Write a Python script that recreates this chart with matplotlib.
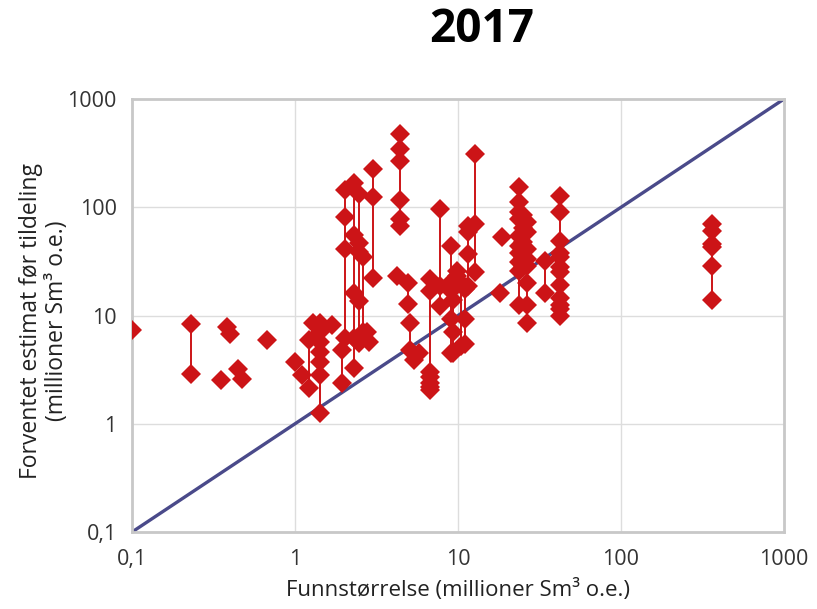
import numpy as np
import matplotlib.pyplot as plt

# Funnstørrelse (x) and the estimates made before award (y) per discovery
find_size = [0.1, 0.23, 0.38, 0.40, 0.35, 0.45, 0.47, 0.67,
             1.0, 1.1, 1.22, 1.29, 1.42, 1.69, 2.03, 1.94, 2.3, 2.47, 2.6, 2.77, 2.85, 3.0,
             4.4, 4.2, 4.94, 5.1, 5.4, 5.8, 6.7, 7.7, 9.0, 9.3, 9.9, 10.5, 11.0, 11.5, 12.7,
             18.0, 18.7, 23.7, 25.0, 26.5, 34.0, 42.0, 360.0]
estimates = [
    [7.4], [8.4, 2.9], [7.9], [6.7], [2.55], [3.2], [2.6], [5.9],
    [3.7], [2.8], [6.0, 2.15], [8.6], [8.6, 7.0, 5.75, 4.6, 3.7, 2.85, 1.26], [8.1],
    [143, 81, 41, 6.2], [4.8, 2.4], [167, 56, 16.3, 6.2, 3.3], [133, 47, 39, 13.5, 5.6],
    [35, 7.0], [7.0], [5.75], [225, 124, 22],
    [474, 345, 265, 116, 78, 67], [23], [19.8, 12.9], [8.6, 4.8], [3.9], [4.5],
    [21.6, 16.7, 3.0, 2.7, 2.4, 2.2, 2.05], [96, 18.6, 12.2],
    [43.6, 20.2, 16.7, 9.2, 4.5], [14, 7.0, 4.5], [25.6, 23], [20, 5.2],
    [17.5, 9.2, 5.4], [67, 59, 37, 18.6], [310, 70, 25],
    [16.3], [53], [153, 111, 90, 78, 54, 44, 38, 31, 25.6, 12.6],
    [85, 65, 48, 35, 28], [73, 59, 41, 33, 28.5, 20, 12.6, 8.6], [31.6, 16.3],
    [126, 90, 48.5, 38, 34.5, 28, 25, 19.3, 14.6, 12.6, 11.4, 9.8],
    [70, 60, 45.5, 42.5, 28.5, 14],
]
ticks = [0.1, 1, 10, 100, 1000]
tick_labels = ["0,1", "1", "10", "100", "1000"]

plt.rcParams['font.family'] = ['Open Sans', 'DejaVu Sans']

red = "#cc1417"
fig = plt.figure(figsize=(8.17, 6.09), dpi=100)
ax = fig.add_axes([0.1616, 0.1264, 0.798, 0.711])

# y = x reference line
ax.plot(ticks, ticks, color="#4a4a8a", linewidth=2.4, zorder=2)

for x, ys in zip(find_size, estimates):
    if len(ys) > 1:
        ax.plot([x, x], [min(ys), max(ys)], color=red, linewidth=1.4, zorder=3)
    ax.plot([x] * len(ys), ys, linestyle="none", marker="D", markersize=10,
            color=red, markeredgewidth=0, zorder=4)

ax.set_xscale("log")
ax.set_yscale("log")
ax.set_xlim(0.1, 1000)
ax.set_ylim(0.1, 1000)
ax.set_xticks(ticks)
ax.set_xticklabels(tick_labels)
ax.set_yticks(ticks)
ax.set_yticklabels(tick_labels)
ax.minorticks_off()
ax.tick_params(length=0, labelsize=15.5, colors="#333333")
ax.tick_params(axis="x", pad=12)
ax.tick_params(axis="y", pad=11)
ax.grid(True, color="#dddddd", linewidth=1)
ax.set_axisbelow(True)
for s in ax.spines.values():
    s.set_color("#c8c8c8")
    s.set_linewidth(2)

ax.set_xlabel("Funnstørrelse (millioner Sm³ o.e.)", fontsize=16, color="#222222")
ax.xaxis.set_label_coords(0.5, -0.108)
ax.set_ylabel("Forventet estimat før tildeling\n(millioner Sm³ o.e.)", fontsize=16.5,
              color="#222222", linespacing=1.1)
ax.yaxis.set_label_coords(-0.097, 0.487)

fig.text(0.59, 0.951, "2017", fontsize=33, fontweight="bold", ha="center", va="center")

fig.savefig("out.png", dpi=100)
